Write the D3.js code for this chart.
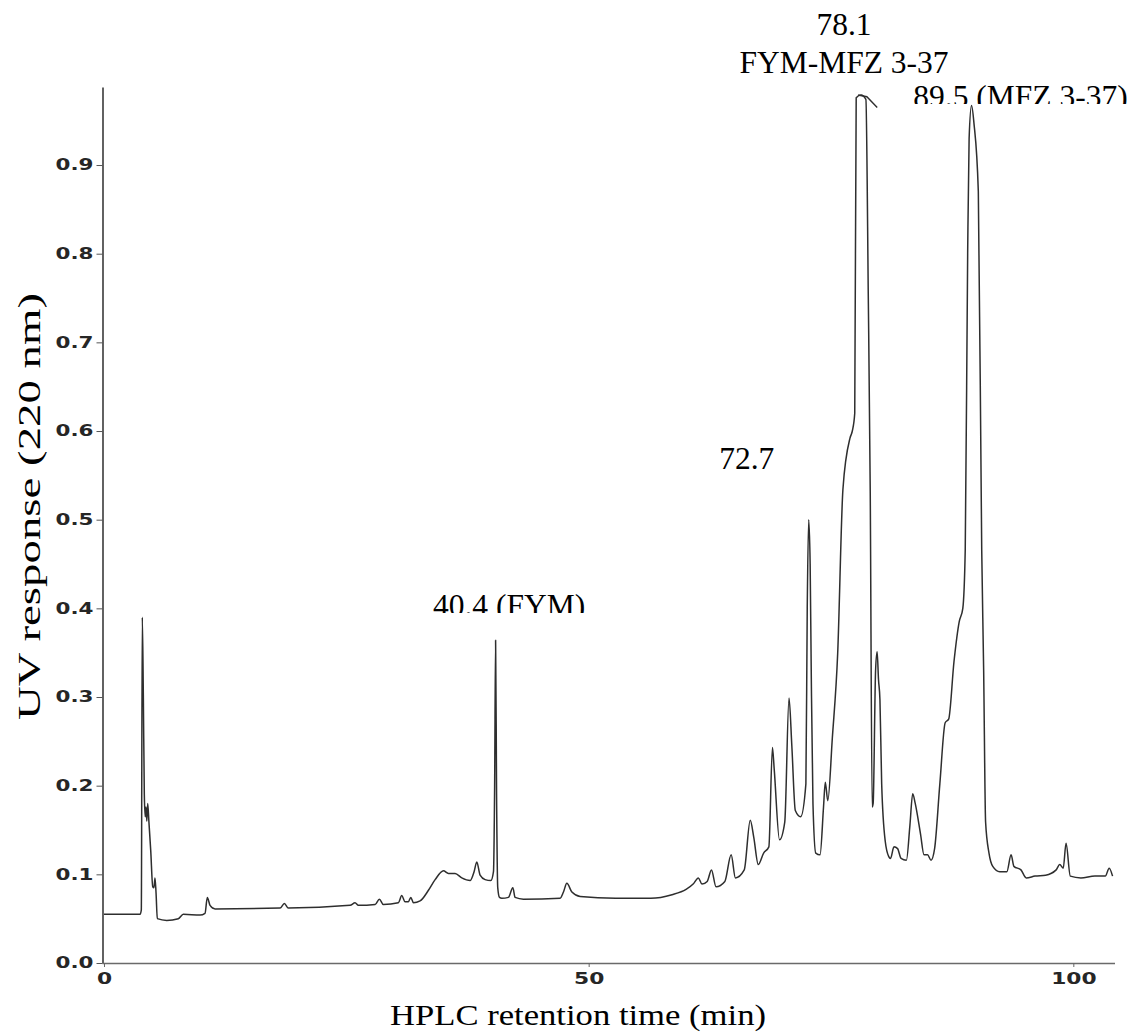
<!DOCTYPE html>
<html>
<head>
<meta charset="utf-8">
<script src="https://cdn.jsdelivr.net/npm/d3@7"></script>
<style>
  html, body { margin: 0; padding: 0; background: #fff; }
  svg { display: block; }
  .serif { font-family: "Liberation Serif", "Times New Roman", Times, serif; }
  .tick text { font-family: "DejaVu Sans", Verdana, sans-serif; font-weight: bold; }
</style>
</head>
<body>
<svg id="chart" width="1136" height="1032"></svg>
<script>
// Chromatogram trace: HPLC retention time (min) vs UV response at 220 nm
const retentionTime = [
  0, 3.72, 3.85, 3.95, 4.06, 4.16, 4.25, 4.33, 4.42, 4.51, 4.64, 4.82, 5.03, 5.15, 5.26, 5.37, 5.50,
  6.47, 7.67, 8.18, 9.91, 10.42, 10.66, 10.94, 11.46, 18.16, 18.61, 19.02, 25.39, 25.90, 26.24,
  27.97, 28.41, 28.82, 30.37, 30.72, 31.06, 31.40, 31.65, 31.92, 32.61, 33.47, 34.16, 35.02, 35.53,
  36.22, 36.91, 37.77, 38.18, 38.46, 38.80, 39.32, 39.91, 40.18, 40.30, 40.4, 40.50, 40.62, 40.80,
  41.04, 41.72, 42.18, 42.41, 43.27, 47.06, 47.40, 47.75, 48.27, 49.12, 52.78, 56.41, 58.60, 60.05,
  60.78, 61.32, 61.69, 62.23, 62.67, 63.14, 64.05, 64.70, 65.14, 66.05, 66.67, 67.03, 67.50, 68.05,
  68.59, 68.96, 69.14, 69.69, 70.23, 70.67, 70.96, 71.32, 71.87, 72.41, 72.55, 72.7, 72.85, 72.96,
  73.14, 73.43, 73.87, 74.23, 74.41, 74.67, 75.14, 75.69, 76.23, 76.96, 77.20, 77.45, 77.60, 78.1,
  78.60, 78.85, 79.05, 79.25, 79.35, 79.60, 79.76, 79.90, 80.05, 80.23, 80.60, 80.96, 81.14, 81.50,
  81.87, 82.23, 82.78, 83.14, 83.43, 83.69, 84.23, 84.60, 84.96, 85.32, 85.69, 86.23, 86.78, 87.14,
  87.69, 88.23, 88.60, 88.85, 89.10, 89.25, 89.5, 89.75, 90.20, 90.55, 90.75, 90.95, 91.30, 91.69,
  92.41, 93.14, 93.58, 93.87, 94.60, 95.14, 96.05, 97.14, 98.23, 98.60, 98.96, 99.25, 99.69, 100.78,
  102.23, 103.30, 103.70, 104.05
];
const uvResponse = [
  0.055, 0.055, 0.060, 0.390, 0.300, 0.190, 0.165, 0.176, 0.160, 0.180, 0.158, 0.127, 0.086, 0.085, 0.096, 0.079, 0.050,
  0.048, 0.050, 0.055, 0.054, 0.056, 0.074, 0.065, 0.061, 0.062, 0.067, 0.062, 0.065, 0.068, 0.065,
  0.066, 0.072, 0.066, 0.068, 0.076, 0.069, 0.069, 0.074, 0.068, 0.070, 0.082, 0.094, 0.104, 0.101,
  0.101, 0.096, 0.093, 0.103, 0.114, 0.099, 0.094, 0.093, 0.103, 0.200, 0.364, 0.190, 0.085, 0.074,
  0.073, 0.074, 0.085, 0.074, 0.072, 0.073, 0.080, 0.090, 0.080, 0.075, 0.073, 0.073, 0.077, 0.083,
  0.089, 0.096, 0.089, 0.092, 0.105, 0.086, 0.092, 0.122, 0.096, 0.105, 0.161, 0.142, 0.111, 0.124,
  0.131, 0.243, 0.219, 0.139, 0.159, 0.299, 0.245, 0.172, 0.165, 0.202, 0.400, 0.500, 0.450, 0.331,
  0.180, 0.124, 0.122, 0.176, 0.204, 0.183, 0.254, 0.349, 0.534, 0.592, 0.600, 0.620, 0.976, 0.979,
  0.974, 0.750, 0.530, 0.176, 0.180, 0.330, 0.351, 0.320, 0.297, 0.202, 0.137, 0.120, 0.118, 0.131,
  0.129, 0.118, 0.116, 0.155, 0.191, 0.180, 0.146, 0.122, 0.122, 0.116, 0.129, 0.202, 0.271, 0.275,
  0.340, 0.385, 0.400, 0.466, 0.800, 0.930, 0.967, 0.947, 0.870, 0.466, 0.330, 0.159, 0.124, 0.109,
  0.103, 0.103, 0.122, 0.109, 0.105, 0.096, 0.098, 0.099, 0.105, 0.111, 0.107, 0.135, 0.098, 0.096,
  0.098, 0.098, 0.107, 0.098
];

// Pen overshoot where the 78.1 min peak runs off scale
const overshootTime = [77.8, 78.7, 79.77];
const overshootResponse = [0.979, 0.977, 0.965];

// Peak annotations
const peakTimes = [40.4, 72.7, 78.1, 89.5];
const peakLabelLines = [
  ["40.4 (FYM)"],
  ["72.7"],
  ["78.1", "FYM-MFZ 3-37"],
  ["89.5 (MFZ 3-37)"]
];

const xTickValues = [0, 50, 100];
const yTickValues = [0, 0.1, 0.2, 0.3, 0.4, 0.5, 0.6, 0.7, 0.8, 0.9];
const xTitle = "HPLC retention time (min)";
const yTitle = "UV response (220 nm)";

// ---- layout ----
const W = 1136, H = 1032;
const plot = { left: 104, right: 1115, top: 87, bottom: 963, axisX: 102.5 };
// label placement relative to each peak: horizontal offset, baselines, optional bottom clip
const labelLayout = [
  { dx: 13.5, baselines: [616], clipY: 613 },
  { dx: -62, baselines: [469] },
  { dx: -17, baselines: [35, 73] },
  { dx: 49, baselines: [107], clipY: 104 }
];

const svg = d3.select("#chart");
svg.append("rect").attr("width", W).attr("height", H).attr("fill", "#fff");

const x = d3.scaleLinear().domain([0, 104.3]).range([plot.left, plot.right]);
const y = d3.scaleLinear().domain([0, 0.988]).range([plot.bottom, plot.top]);

// widen glyphs along the baseline by a factor
function widen(sel, factor) {
  sel.each(function () {
    const w = this.getComputedTextLength();
    d3.select(this).attr("textLength", w * factor).attr("lengthAdjust", "spacingAndGlyphs");
  });
}

// ---- axes ----
const yAxis = svg.append("g")
  .attr("transform", `translate(${plot.axisX},0)`)
  .call(d3.axisLeft(y).tickValues(yTickValues).tickFormat(d3.format(".1f"))
    .tickSize(6).tickPadding(3).tickSizeOuter(0))
  .attr("font-family", null);
yAxis.select(".domain").attr("stroke", "#3a3a3a").attr("stroke-width", 1.6);
yAxis.selectAll(".tick line").attr("stroke", "#555").attr("stroke-width", 1);
yAxis.selectAll(".tick text")
  .attr("font-size", 15).attr("fill", "#262626")
  .call(widen, 1.43);

const xAxis = svg.append("g")
  .attr("transform", `translate(0,${plot.bottom})`)
  .call(d3.axisBottom(x).tickValues(xTickValues).tickFormat(d3.format("d"))
    .tickSize(4).tickPadding(6).tickSizeOuter(0))
  .attr("font-family", null);
xAxis.select(".domain")
  .attr("d", `M${plot.axisX},0.5H${plot.right}`)
  .attr("stroke", "#6a6a6a").attr("stroke-width", 1.5);
xAxis.selectAll(".tick line").attr("stroke", "#666");
xAxis.selectAll(".tick text")
  .attr("font-size", 15).attr("fill", "#262626")
  .call(widen, 1.45);

// ---- trace ----
const trace = retentionTime.map((t, i) => [t, uvResponse[i]]);
const line = d3.line().x(d => x(d[0])).y(d => y(d[1])).curve(d3.curveMonotoneX);
svg.append("path")
  .datum(trace)
  .attr("d", line)
  .attr("fill", "none")
  .attr("stroke", "#2e2e2e")
  .attr("stroke-width", 1.5)
  .attr("stroke-linejoin", "round");

svg.append("path")
  .datum(overshootTime.map((t, i) => [t, overshootResponse[i]]))
  .attr("d", d3.line().x(d => x(d[0])).y(d => y(d[1])))
  .attr("fill", "none")
  .attr("stroke", "#2e2e2e")
  .attr("stroke-width", 1.4);

// ---- peak annotations ----
const defs = svg.append("defs");
peakTimes.forEach((t, i) => {
  const lay = labelLayout[i];
  const g = svg.append("g");
  if (lay.clipY !== undefined) {
    const id = "clip-peak-" + i;
    defs.append("clipPath").attr("id", id)
      .append("rect").attr("x", 0).attr("y", 0).attr("width", W).attr("height", lay.clipY);
    g.attr("clip-path", `url(#${id})`);
  }
  peakLabelLines[i].forEach((txt, j) => {
    g.append("text")
      .attr("class", "serif")
      .attr("x", x(t) + lay.dx)
      .attr("y", lay.baselines[j])
      .attr("text-anchor", "middle")
      .attr("font-size", 31.5)
      .attr("fill", "#000")
      .text(txt);
  });
});

// ---- axis titles ----
svg.append("text")
  .attr("class", "serif")
  .attr("x", 578).attr("y", 1025)
  .attr("text-anchor", "middle")
  .attr("font-size", 30)
  .attr("textLength", 376).attr("lengthAdjust", "spacingAndGlyphs")
  .attr("fill", "#000")
  .text(xTitle);

svg.append("text")
  .attr("class", "serif")
  .attr("transform", "translate(40,506.5) rotate(-90)")
  .attr("text-anchor", "middle")
  .attr("font-size", 32)
  .attr("textLength", 427).attr("lengthAdjust", "spacingAndGlyphs")
  .attr("fill", "#000")
  .text(yTitle);
</script>
</body>
</html>
